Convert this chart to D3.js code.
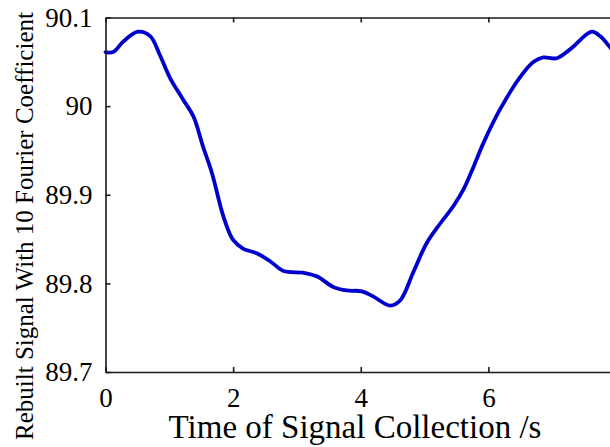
<!DOCTYPE html>
<html>
<head>
<meta charset="utf-8">
<script src="https://cdn.jsdelivr.net/npm/d3@7"></script>
<style>
  html, body { margin: 0; padding: 0; background: #fff; overflow: hidden; }
  svg { display: block; }
  svg text { font-family: "Liberation Serif", "Times New Roman", serif; fill: #000; }
</style>
</head>
<body>
<svg id="chart" width="610" height="447"></svg>
<script>
// Data
const timeValues = [0, 0.12, 0.28, 0.51, 0.70, 0.85, 1.01, 1.22, 1.38, 1.53, 1.67, 1.85, 2.00, 2.16, 2.37, 2.58, 2.79, 3.10, 3.31, 3.57, 3.78, 4.02, 4.20, 4.46, 4.62, 4.82, 5.03, 5.24, 5.45, 5.61, 5.77, 5.92, 6.18, 6.50, 6.71, 6.86, 7.07, 7.28, 7.62, 7.75, 7.91, 8.0];
const signalValues = [90.061, 90.061, 90.073, 90.084, 90.079, 90.058, 90.032, 90.007, 89.988, 89.954, 89.924, 89.875, 89.849, 89.839, 89.834, 89.825, 89.814, 89.812, 89.808, 89.796, 89.792, 89.791, 89.785, 89.775, 89.781, 89.812, 89.845, 89.867, 89.887, 89.906, 89.932, 89.958, 89.996, 90.033, 90.050, 90.055, 90.054, 90.064, 90.084, 90.079, 90.066, 90.058];
const xTicks = [0, 2, 4, 6, 8];
const yTicks = [89.7, 89.8, 89.9, 90, 90.1];
const xTitle = "Time of Signal Collection /s";
const yTitle = "Rebuilt Signal With 10 Fourier Coefficient";

const FONT = "Liberation Serif, Times New Roman, serif";
const svg = d3.select("#chart");
const mLeft = 105.5, mRight = 616, mTop = 17.5, mBottom = 372;

const x = d3.scaleLinear().domain([0, 8]).range([mLeft, mRight]);
const y = d3.scaleLinear().domain([89.7, 90.1]).range([mBottom, mTop]);

const data = timeValues.map((t, i) => ({ t, v: signalValues[i] }));

// line
svg.append("path")
  .datum(data)
  .attr("fill", "none")
  .attr("stroke", "#0000cd")
  .attr("stroke-width", 3.8)
  .attr("stroke-linejoin", "round")
  .attr("stroke-linecap", "round")
  .attr("d", d3.line().x(d => x(d.t)).y(d => y(d.v)).curve(d3.curveCatmullRom.alpha(0.5)));

function styleAxis(g) {
  g.attr("font-family", FONT).attr("font-size", 27);
  g.select(".domain").attr("stroke", "#1a1a1a").attr("stroke-width", 1.6);
  g.selectAll(".tick line").attr("stroke", "#1a1a1a").attr("stroke-width", 1.6);
  g.selectAll(".tick text")
    .attr("font-family", FONT).attr("font-size", 27)
    .style("font-family", FONT).style("font-size", "27px")
    .attr("fill", "#000");
}

// bottom axis
svg.append("g")
  .attr("transform", `translate(0,${mBottom})`)
  .call(d3.axisBottom(x).tickValues(xTicks).tickFormat(d3.format("d")).tickSizeInner(-5).tickSizeOuter(0).tickPadding(16))
  .call(styleAxis);

// top axis
svg.append("g")
  .attr("transform", `translate(0,${mTop})`)
  .call(d3.axisTop(x).tickValues(xTicks).tickFormat("").tickSizeInner(-5).tickSizeOuter(0))
  .call(styleAxis);

// left axis
svg.append("g")
  .attr("transform", `translate(${mLeft},0)`)
  .call(d3.axisLeft(y).tickValues(yTicks).tickFormat(d => String(+d.toFixed(1))).tickSizeInner(-5).tickSizeOuter(0).tickPadding(13))
  .call(styleAxis);

// right axis
svg.append("g")
  .attr("transform", `translate(${mRight},0)`)
  .call(d3.axisRight(y).tickValues(yTicks).tickFormat("").tickSizeInner(-5).tickSizeOuter(0))
  .call(styleAxis);

// titles
svg.append("text")
  .attr("x", 355)
  .attr("y", 438)
  .attr("text-anchor", "middle")
  .attr("font-family", FONT)
  .style("font-size", "33px")
  .text(xTitle);

svg.append("text")
  .attr("transform", "translate(33,226) rotate(-90)")
  .attr("text-anchor", "middle")
  .attr("font-family", FONT)
  .style("font-size", "25px")
  .text(yTitle);
</script>
</body>
</html>
